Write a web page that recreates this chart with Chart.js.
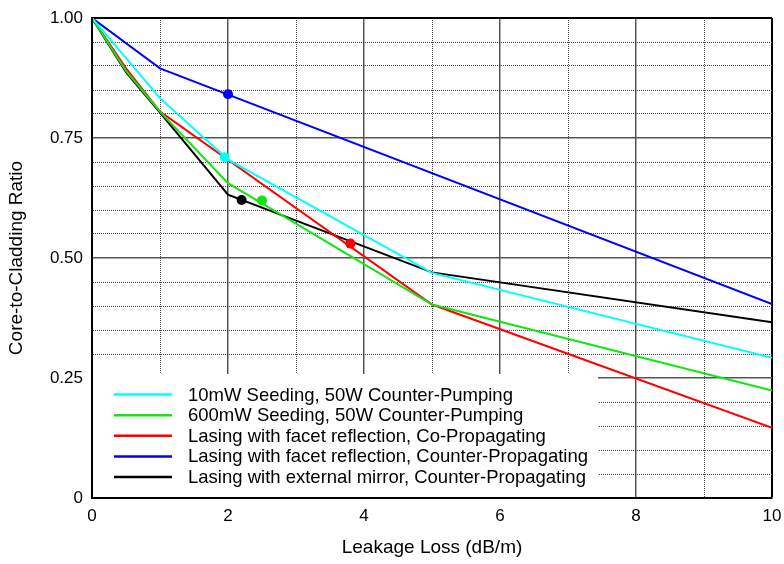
<!DOCTYPE html>
<html>
<head>
<meta charset="utf-8">
<script src="https://cdn.jsdelivr.net/npm/chart.js@4.4.1/dist/chart.umd.min.js"></script>
<style>
  html, body { margin: 0; padding: 0; background: #fff; }
  #wrap { width: 784px; height: 564px; position: relative; }
</style>
</head>
<body>
<div id="wrap"><canvas id="chart"></canvas></div>
<script>
// Leakage loss (dB/m) vs core-to-cladding ratio, one x/y pair per curve
const seriesLabels = [
  "10mW Seeding, 50W Counter-Pumping",
  "600mW Seeding, 50W Counter-Pumping",
  "Lasing with facet reflection, Co-Propagating",
  "Lasing with facet reflection, Counter-Propagating",
  "Lasing with external mirror, Counter-Propagating"
]
const seriesColors = ["#00ffff", "#11e611", "#ff0000", "#0000ff", "#000000"]

const cyanX = [0, 1, 2, 5, 10]
const cyanY = [1, 0.833, 0.705, 0.469, 0.292]
const greenX = [0, 0.5, 1, 2, 5, 10]
const greenY = [1, 0.89, 0.805, 0.656, 0.403, 0.224]
const redX = [0, 0.5, 1, 5, 10]
const redY = [1, 0.895, 0.805, 0.403, 0.146]
const blueX = [0, 1, 10]
const blueY = [1, 0.895, 0.404]
const blackX = [0, 0.5, 1, 2, 5, 10]
const blackY = [1, 0.887, 0.803, 0.632, 0.47, 0.366]

// highlighted operating point on each curve
const markerX = [1.95, 2.5, 3.8, 2.0, 2.2]
const markerY = [0.71, 0.62, 0.53, 0.841, 0.621]

const xTickLabels = ["0", "2", "4", "6", "8", "10"]
const yTickLabels = ["0", "0.25", "0.50", "0.75", "1.00"]

const FONT = "'Liberation Sans', Arial, Helvetica, sans-serif"

const toPoints = (xs, ys) => xs.map((x, i) => ({ x: x, y: ys[i] }))
const curves = [
  toPoints(cyanX, cyanY),
  toPoints(greenX, greenY),
  toPoints(redX, redY),
  toPoints(blueX, blueY),
  toPoints(blackX, blackY)
]

const lineSets = curves.map((pts, i) => ({
  type: "line",
  label: seriesLabels[i],
  data: pts,
  borderColor: seriesColors[i],
  backgroundColor: seriesColors[i],
  borderWidth: 2,
  pointRadius: 0,
  tension: 0,
  order: 1
}))

const markerSets = markerX.map((x, i) => ({
  type: "scatter",
  label: "",
  data: [{ x: x, y: markerY[i] }],
  backgroundColor: seriesColors[i],
  borderWidth: 0,
  pointRadius: 5,
  order: 0
}))

// legend drawn as a white panel sitting inside the plot, lower left
const boxLegend = {
  id: "boxLegend",
  beforeDatasetsDraw(chart) {
    const { ctx, chartArea } = chart
    const rowH = 20.6
    const fontSize = 18.5
    ctx.save()
    ctx.font = fontSize + "px " + FONT
    const textX = chartArea.left + 96
    let maxW = 0
    seriesLabels.forEach(t => { maxW = Math.max(maxW, ctx.measureText(t).width) })
    const boxRight = textX + maxW + 10
    const boxTop = chartArea.bottom - (seriesLabels.length * rowH + 21)
    ctx.fillStyle = "#fff"
    ctx.fillRect(chartArea.left, boxTop, boxRight - chartArea.left, chartArea.bottom - boxTop)

    seriesLabels.forEach((t, i) => {
      const cy = chartArea.bottom - 21 - (seriesLabels.length - 1 - i) * rowH
      ctx.strokeStyle = seriesColors[i]
      ctx.lineWidth = 2.5
      ctx.beginPath()
      ctx.moveTo(chartArea.left + 22, cy)
      ctx.lineTo(chartArea.left + 80, cy)
      ctx.stroke()
      ctx.fillStyle = "#000"
      ctx.textBaseline = "middle"
      ctx.textAlign = "left"
      ctx.fillText(t, textX, cy + 1)
    })
    ctx.restore()
  }
}

const isMajorX = v => Math.abs(v % 2) < 1e-6
const isMajorY = v => Math.abs(Math.round(v * 100) % 25) === 0

new Chart(document.getElementById("chart"), {
  data: { datasets: lineSets.concat(markerSets) },
  plugins: [boxLegend],
  options: {
    responsive: true,
    maintainAspectRatio: false,
    animation: false,
    layout: { padding: { top: 18, right: 12, bottom: 0, left: 0 } },
    plugins: {
      legend: { display: false },
      tooltip: { enabled: false }
    },
    scales: {
      x: {
        type: "linear",
        min: 0,
        max: 10,
        afterFit: s => {
          s.height = 66
          s.paddingLeft = 0
          s.paddingRight = 0
        },
        ticks: {
          stepSize: 1,
          padding: 8,
          color: "#000",
          font: { family: FONT, size: 17 },
          callback: v => isMajorX(v) ? xTickLabels[Math.round(v / 2)] : ""
        },
        grid: {
          drawTicks: false,
          color: ctx => {
            const v = ctx.tick ? ctx.tick.value : 0
            if (v === 10) return "#000"
            return isMajorX(v) ? "#555" : "#444"
          },
          lineWidth: ctx => {
            const v = ctx.tick ? ctx.tick.value : 0
            if (v === 10) return 2
            return isMajorX(v) ? 1.5 : 1
          }
        },
        border: {
          color: "#000",
          width: 2,
          z: 1,
          dash: ctx => (ctx.tick && !isMajorX(ctx.tick.value)) ? [1, 1] : []
        },
        title: {
          display: true,
          text: "Leakage Loss (dB/m)",
          color: "#000",
          font: { family: FONT, size: 19 },
          padding: { top: 0, bottom: 5 }
        }
      },
      y: {
        type: "linear",
        min: 0,
        max: 1,
        afterFit: s => {
          s.width = 92
          s.paddingTop = 0
          s.paddingBottom = 0
        },
        ticks: {
          stepSize: 0.05,
          padding: 9,
          color: "#000",
          font: { family: FONT, size: 17 },
          callback: v => isMajorY(v) ? yTickLabels[Math.round(v * 4)] : ""
        },
        grid: {
          drawTicks: false,
          color: ctx => {
            const v = ctx.tick ? ctx.tick.value : 0
            if (Math.abs(v - 1) < 1e-6) return "#000"
            return isMajorY(v) ? "#555" : "#444"
          },
          lineWidth: ctx => {
            const v = ctx.tick ? ctx.tick.value : 0
            if (Math.abs(v - 1) < 1e-6) return 2
            return isMajorY(v) ? 1.5 : 1
          }
        },
        border: {
          color: "#000",
          width: 2,
          z: 1,
          dash: ctx => (ctx.tick && !isMajorY(ctx.tick.value)) ? [1, 1] : []
        },
        title: {
          display: true,
          text: "Core-to-Cladding Ratio",
          color: "#000",
          font: { family: FONT, size: 19 },
          padding: { top: 5, bottom: 0 }
        }
      }
    }
  }
})
</script>
</body>
</html>
